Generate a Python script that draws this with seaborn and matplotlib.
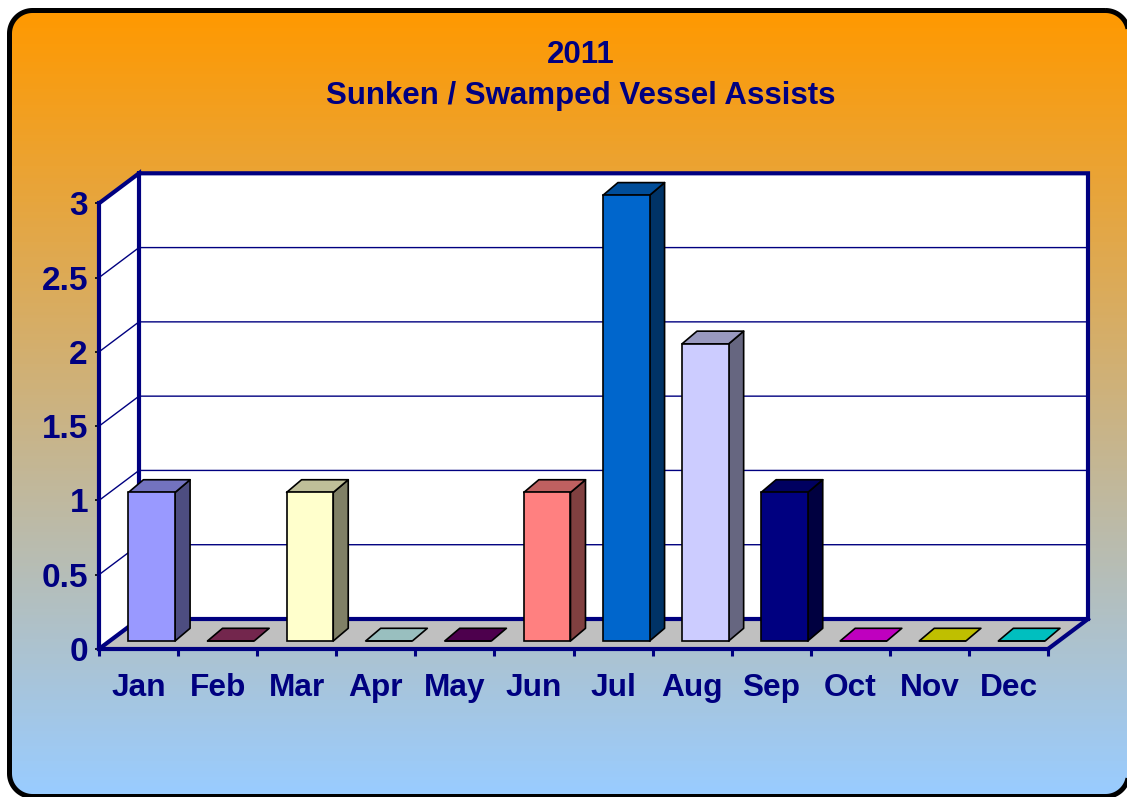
import numpy as np
import pandas as pd
import matplotlib
matplotlib.use("Agg")
import matplotlib.pyplot as plt
from matplotlib.patches import Polygon
from matplotlib.transforms import Affine2D
from matplotlib.colors import LinearSegmentedColormap, to_rgb
import seaborn as sns

title_year = "2011"
title_main = "Sunken / Swamped Vessel Assists"
months = ["Jan", "Feb", "Mar", "Apr", "May", "Jun", "Jul", "Aug", "Sep", "Oct", "Nov", "Dec"]
assists = [1, 0, 1, 0, 0, 1, 3, 2, 1, 0, 0, 0]
bar_colors = ["#9999FF", "#993366", "#FFFFCC", "#CCFFFF", "#660066", "#FF8080",
              "#0066CC", "#CCCCFF", "#000080", "#FF00FF", "#FFFF00", "#00FFFF"]
y_ticks = [0, 0.5, 1, 1.5, 2, 2.5, 3]
y_labels = ["0", "0.5", "1", "1.5", "2", "2.5", "3"]

W, H = 1127, 797
NAVY = "#000080"
sns.set_style("white")
plt.rcParams["font.family"] = ["Liberation Sans", "DejaVu Sans"]
plt.rcParams["font.weight"] = "bold"

fig = plt.figure(figsize=(W / 100, H / 100), dpi=100, facecolor="white")

# rounded gradient panel
bg = fig.add_axes([0, 0, 1, 1], zorder=0)
cmap = LinearSegmentedColormap.from_list("panel", ["#FF9900", "#99CCFF"])
img = bg.imshow(np.linspace(0, 1, 256)[:, None], cmap=cmap, aspect="auto",
                extent=(0, W + 10, 795, 13), zorder=1)
bg.set_xlim(0, W)
bg.set_ylim(H, 0)
bg.axis("off")


def rounded_outline(left, top, right, bottom, r):
    t = np.linspace(0, np.pi / 2, 24)
    corners = [(right - r, top + r, -np.pi / 2), (right - r, bottom - r, 0),
               (left + r, bottom - r, np.pi / 2), (left + r, top + r, np.pi)]
    pts = []
    for cx, cy, a in corners:
        pts.append(np.column_stack([cx + r * np.cos(t + a), cy + r * np.sin(t + a)]))
    return np.vstack(pts)


frame = Polygon(rounded_outline(9.5, 10.5, 1128.5, 796.5, 23), closed=True, facecolor="none",
                edgecolor="black", linewidth=3.6, zorder=2, clip_on=True)
bg.add_patch(frame)
img.set_clip_path(frame)

# main axes: front plane of the 3-D box
ax = fig.add_axes([99 / W, (H - 649) / H, 949 / W, 445.7 / H], zorder=1)
ax.patch.set_visible(False)
df = pd.DataFrame({"month": months, "assists": assists})
sns.barplot(data=df, x="month", y="assists", hue="month", palette=bar_colors,
            saturation=1, legend=False, width=0.59, edgecolor="black",
            linewidth=1.2, ax=ax, order=months)
bars = list(ax.patches)
ax.set_xlim(-0.5, 11.5)
ax.set_ylim(0, 3)

px = 12 / 949
py = 3 / 445.7
dx, dy = 40 * px, 30 * py          # box depth
bdx, bdy = 15 * px, 12.7 * py      # bar depth
sx, sy = 13.2 * px, 8 * py         # bar inset from the front plane

x0, x1 = -0.5, 11.5
ymax = 3
wall = dict(zorder=0.5, clip_on=False, linewidth=0)
ax.add_patch(Polygon([(x0 + dx, dy), (x1 + dx, dy), (x1 + dx, ymax + dy), (x0 + dx, ymax + dy)],
                     facecolor="white", **wall))
ax.add_patch(Polygon([(x0, 0), (x0 + dx, dy), (x0 + dx, ymax + dy), (x0, ymax)],
                     facecolor="white", **wall))
ax.add_patch(Polygon([(x0, 0), (x1, 0), (x1 + dx, dy), (x0 + dx, dy)],
                     facecolor="#C0C0C0", **wall))

for t in y_ticks[1:-1]:
    ax.plot([x0, x0 + dx, x1 + dx], [t, t + dy, t + dy], color=NAVY, lw=1.0,
            zorder=0.7, clip_on=False)
thick = dict(color=NAVY, lw=3.0, zorder=1.0, clip_on=False, solid_capstyle="projecting",
             solid_joinstyle="miter")
ax.plot([x0, x0 + dx, x0 + dx, x1 + dx, x1 + dx, x0 + dx],
        [ymax, ymax + dy, dy, dy, ymax + dy, ymax + dy], **thick)
ax.plot([x0, x0 + dx], [0, dy], **thick)
ax.plot([x1, x1 + dx], [0, dy], **thick)

# bars: inset front faces with shaded side and top faces
shift = Affine2D().translate(sx, sy) + ax.transData
for patch, col in zip(bars, bar_colors):
    x, w, h = patch.get_x(), patch.get_width(), patch.get_height()
    base = np.array(to_rgb(col))
    patch.set_transform(shift)
    patch.set_zorder(3.2)
    patch.set_clip_on(False)
    if h > 0:
        ax.add_patch(Polygon([(x + w, 0), (x + w + bdx, bdy), (x + w + bdx, h + bdy), (x + w, h)],
                             closed=True, facecolor=base * 0.5, edgecolor="black", linewidth=1.2,
                             transform=shift, zorder=3, clip_on=False, joinstyle="round"))
    ax.add_patch(Polygon([(x, h), (x + w, h), (x + w + bdx, h + bdy), (x + bdx, h + bdy)],
                         closed=True, facecolor=base * 0.75, edgecolor="black", linewidth=1.2,
                         transform=shift, zorder=3, clip_on=False, joinstyle="round"))

# axes furniture
for s in ["top", "right"]:
    ax.spines[s].set_visible(False)
for s in ["left", "bottom"]:
    ax.spines[s].set_color(NAVY)
    ax.spines[s].set_linewidth(3.0)
    ax.spines[s].set_zorder(2.5)
    ax.spines[s].set_capstyle("projecting")
ax.set_xlabel("")
ax.set_ylabel("")
ax.set_yticks(y_ticks, y_labels)
ax.set_xticks(range(len(months)), months)
ax.set_xticks(np.arange(x0, x1 + 1), minor=True)
ax.tick_params(axis="x", which="major", length=0, pad=17, labelsize=22.8, labelcolor=NAVY)
ax.tick_params(axis="x", which="minor", length=5, width=2.2, color=NAVY, direction="out", bottom=True)
ax.tick_params(axis="y", which="major", length=3, width=1.2, color="black", direction="out",
               left=True, pad=5, labelsize=24, labelcolor=NAVY)

fig.text(581 / W, 1 - 55 / H, title_year, ha="center", va="center", color=NAVY, fontsize=22.5, fontweight="bold")
fig.text(581 / W, 1 - 96 / H, title_main, ha="center", va="center", color=NAVY, fontsize=22.5, fontweight="bold")

fig.savefig("out.png", dpi=100)
